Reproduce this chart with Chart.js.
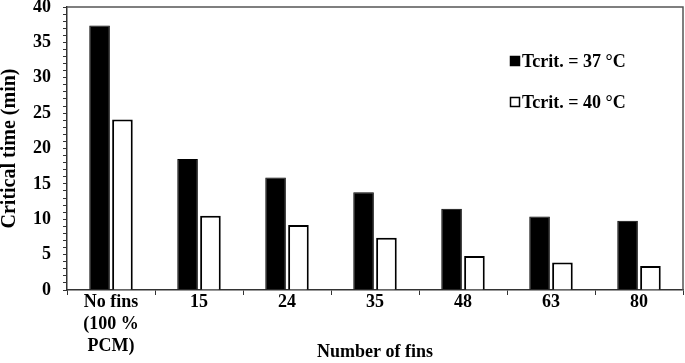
<!DOCTYPE html>
<html><head><meta charset="utf-8">
<script src="https://cdn.jsdelivr.net/npm/chart.js@4/dist/chart.umd.min.js"></script>
<style>html,body{margin:0;padding:0;background:#fff}#wrap{width:685px;height:363px}</style>
</head><body><div id="wrap"><canvas id="c"></canvas></div>
<script>
const categories = [["No fins","(100 %","PCM)"],"15","24","35","48","63","80"];
const tcrit37 = [37.4, 18.5, 15.9, 13.8, 11.5, 10.4, 9.8];
const tcrit40 = [24.1, 10.5, 9.2, 7.4, 4.8, 3.9, 3.4];
const seriesLabels = ["Tcrit. = 37 \u00B0C", "Tcrit. = 40 \u00B0C"];
const yTitle = "Critical time (min)";
const xTitle = "Number of fins";

const FONT = "'Liberation Serif','Times New Roman',serif";

const framePlugin = {
  id: 'frame',
  afterDatasetsDraw(chart) {
    const {ctx, chartArea: a} = chart;
    ctx.save();
    ctx.strokeStyle = '#555';
    ctx.lineWidth = 1.5;
    ctx.beginPath();
    ctx.moveTo(a.left, a.top); ctx.lineTo(a.right, a.top); ctx.lineTo(a.right, a.bottom);
    ctx.stroke();
    ctx.restore();
  }
};

const legendPlugin = {
  id: 'inlegend',
  afterDraw(chart) {
    const ctx = chart.ctx;
    ctx.save();
    ctx.font = "bold 18px " + FONT;
    ctx.textBaseline = 'middle';
    const ys = [61, 102];
    chart.data.datasets.forEach((ds, i) => {
      const y = ys[i];
      ctx.fillStyle = ds.backgroundColor;
      ctx.fillRect(510, y - 5, 10, 10);
      ctx.strokeStyle = '#000';
      ctx.lineWidth = 1.5;
      ctx.strokeRect(510.5, y - 4.5, 9, 9);
      ctx.fillStyle = '#000';
      ctx.fillText(ds.label, 522, y + 1);
    });
    ctx.restore();
  }
};

new Chart(document.getElementById('c'), {
  type: 'bar',
  data: {
    labels: categories,
    datasets: [
      { label: seriesLabels[0], data: tcrit37, backgroundColor: '#000', borderColor: '#000', borderWidth: 1 },
      { label: seriesLabels[1], data: tcrit40, backgroundColor: '#fff', borderColor: '#000', borderWidth: 2 }
    ]
  },
  options: {
    responsive: true, maintainAspectRatio: false, animation: false,
    devicePixelRatio: 1,
    layout: { padding: { top: 7, right: 2, bottom: 0, left: 0 } },
    datasets: { bar: { categoryPercentage: 0.52, barPercentage: 0.9 } },
    plugins: { legend: { display: false }, tooltip: { enabled: false } },
    scales: {
      x: {
        grid: { display: true, drawOnChartArea: false, tickLength: 5, color: '#333', lineWidth: 1 },
        border: { display: true, color: '#333', width: 1.5 },
        ticks: { color: '#000', font: { family: FONT, size: 18, weight: 'bold', lineHeight: 1.2 }, padding: -3, maxRotation: 0, autoSkip: false },
        title: { display: true, text: xTitle, color: '#000', font: { family: FONT, size: 18, weight: 'bold', lineHeight: 1.2 }, padding: { top: 0, bottom: 0 } },
        afterFit(s) { s.height = 73; s.paddingLeft = 0; s.paddingRight = 0; }
      },
      y: {
        min: 0, max: 40,
        grid: { display: true, drawOnChartArea: false, tickLength: 4, color: '#333', lineWidth: 1 },
        border: { display: true, color: '#333', width: 1.5 },
        ticks: { stepSize: 1, autoSkip: false, color: '#000', padding: 12, font: { family: FONT, size: 18, weight: 'bold' },
                 callback: (v) => (v % 5 === 0 ? v : '') },
        title: { display: true, text: yTitle, color: '#000', font: { family: FONT, size: 20, weight: 'bold', lineHeight: 1 }, padding: { top: 0, bottom: 0 } },
        afterFit(s) { s.width = 67; s.paddingTop = 0; s.paddingBottom = 0; }
      }
    }
  },
  plugins: [framePlugin, legendPlugin]
});
</script>
</body></html>
